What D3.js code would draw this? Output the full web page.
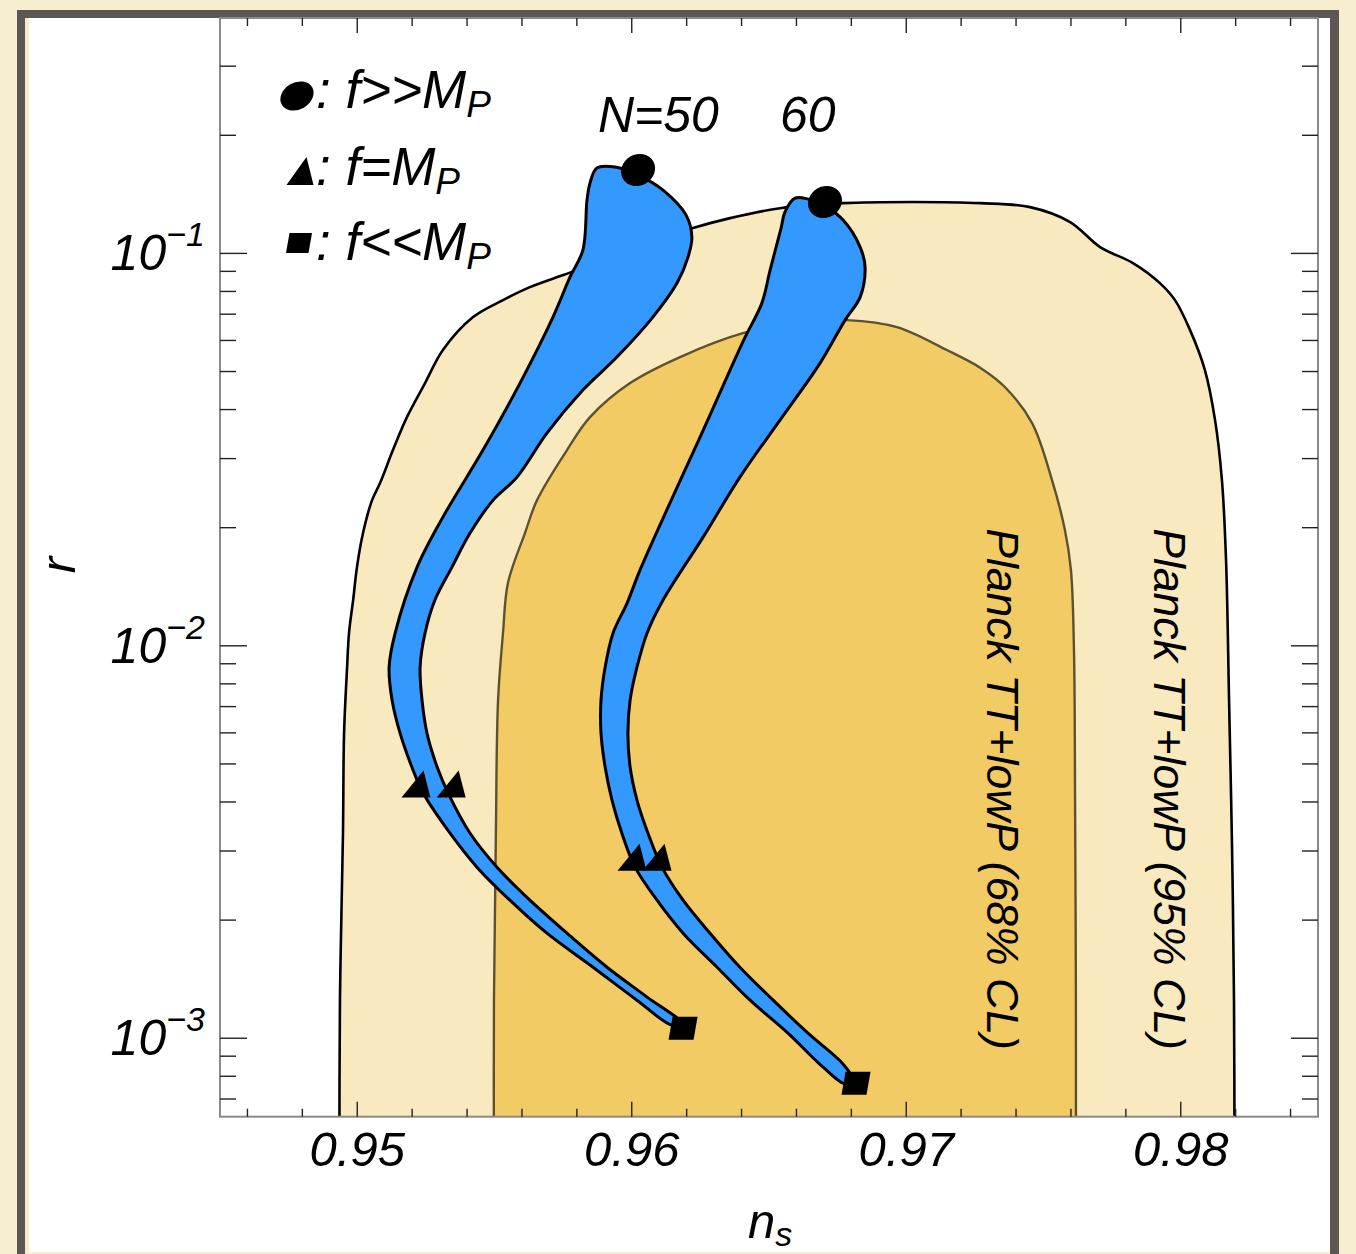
<!DOCTYPE html>
<html><head><meta charset="utf-8">
<script src="https://cdn.jsdelivr.net/npm/d3@7"></script>
<style>
html,body{margin:0;padding:0;background:#f7eed0;}
svg{display:block;}
text{font-family:"Liberation Sans",Arial,sans-serif;font-style:italic;fill:#000;}
</style></head><body>
<svg id="c" width="1356" height="1254"></svg>
<script>
// ---------- data ----------
const nsDomain = [0.945, 0.985];
const rDomain = [0.000631, 0.398];
const xMajorTicks = [0.95, 0.96, 0.97, 0.98];
const xTickLabels = ["0.95", "0.96", "0.97", "0.98"];
const yMajorTicks = [0.001, 0.01, 0.1];
const yTickExponents = ["\u22123", "\u22122", "\u22121"];

// Planck TT+lowP 95% CL contour [ns, r] (open at the bottom edge)
const planck95 = [
  [0.94935,0.0004],[0.94937,0.00125],[0.94948,0.00333],[0.94952,0.00599],[0.94963,0.00882],
  [0.94970,0.01078],[0.94985,0.01308],[0.94999,0.01587],[0.95021,0.01938],[0.95054,0.02351],
  [0.95083,0.02598],[0.95130,0.03153],[0.95181,0.03826],[0.95247,0.04672],[0.95312,0.05672],
  [0.95422,0.06882],[0.95531,0.07603],[0.95629,0.08204],[0.95750,0.08805],[0.95884,0.09502],
  [0.96066,0.1062],[0.96223,0.1160],[0.96358,0.1230],[0.96540,0.1304],[0.96770,0.1343],
  [0.97025,0.1352],[0.97269,0.1343],[0.97451,0.1312],[0.97597,0.1202],[0.97706,0.1038],
  [0.97826,0.09447],[0.97924,0.08401],[0.97979,0.07603],[0.98034,0.06375],[0.98088,0.05043],
  [0.98125,0.03759],[0.98150,0.02644],[0.98165,0.01654],[0.98176,0.00727],[0.98187,0.003016],
  [0.98194,0.00125],[0.98196,0.0004]
];
// Planck TT+lowP 68% CL contour [ns, r]
const planck68 = [
  [0.95498,0.0004],[0.95498,0.00125],[0.95505,0.00333],[0.95513,0.00727],[0.95531,0.01078],
  [0.95549,0.01445],[0.95611,0.01938],[0.95655,0.02351],[0.95764,0.03153],[0.95848,0.03826],
  [0.95994,0.04672],[0.96176,0.05443],[0.96405,0.06262],[0.96613,0.06682],[0.96784,0.06761],
  [0.96966,0.06489],[0.97148,0.05672],[0.97269,0.05115],[0.97360,0.04560],[0.97458,0.03700],
  [0.97531,0.02644],[0.97578,0.01972],[0.97600,0.01559],[0.97611,0.00975],[0.97615,0.004045],
  [0.97618,0.00125],[0.97618,0.0004]
];
// prediction band N=50 (outline, [ns, r])
const bandN50 = [
  [0.95873,0.1650],[0.95848,0.1511],[0.95837,0.1367],[0.95822,0.1020],[0.95775,0.0870],
  [0.95713,0.06882],[0.95593,0.04672],[0.95458,0.03153],[0.95312,0.02128],[0.95218,0.01587],
  [0.95138,0.01078],[0.95116,0.00882],[0.95127,0.00727],[0.95156,0.00599],[0.95199,0.00491],
  [0.95240,0.004214],[0.95338,0.00333],[0.95436,0.002729],[0.95556,0.002248],[0.95691,0.001852],
  [0.95859,0.001517],[0.96019,0.00125],[0.96147,0.00108],
  [0.96176,0.001099],[0.96056,0.001273],[0.95910,0.001517],[0.95764,0.001852],[0.95629,0.002248],
  [0.95509,0.002729],[0.95411,0.00333],[0.95331,0.004214],[0.95291,0.00491],[0.95254,0.00599],
  [0.95236,0.00727],[0.95229,0.00882],[0.95247,0.01078],[0.95283,0.01308],[0.95345,0.01587],
  [0.95411,0.01938],[0.95495,0.02351],[0.95582,0.02691],[0.95691,0.03483],[0.95822,0.04484],
  [0.95946,0.05443],[0.96077,0.06882],[0.96165,0.08401],[0.96205,0.09786],[0.96219,0.1100],
  [0.96198,0.1252],[0.96114,0.1450],[0.96030,0.1574],[0.95939,0.1660]
];
// prediction band N=60
const bandN60 = [
  [0.96595,0.1383],[0.96558,0.1274],[0.96544,0.1160],[0.96504,0.09067],[0.96474,0.07470],
  [0.96413,0.06117],[0.96358,0.05043],[0.96249,0.03403],[0.96139,0.02310],[0.96030,0.01559],
  [0.95983,0.01285],[0.95932,0.01078],[0.95903,0.00882],[0.95888,0.00727],[0.95888,0.00599],
  [0.95903,0.00491],[0.95928,0.004045],[0.95964,0.00333],[0.96012,0.002729],[0.96092,0.002248],
  [0.96187,0.001852],[0.96311,0.001517],[0.96431,0.00125],[0.96569,0.00103],[0.96697,0.000844],
  [0.96781,0.000764],
  [0.96802,0.000791],[0.96770,0.000859],[0.96642,0.00103],[0.96515,0.00125],[0.96394,0.001517],
  [0.96285,0.001852],[0.96187,0.002248],[0.96110,0.002729],[0.96059,0.00333],[0.96019,0.004045],
  [0.95994,0.00491],[0.95986,0.00599],[0.95994,0.00727],[0.96019,0.00882],[0.96056,0.01078],
  [0.96114,0.01308],[0.96260,0.01892],[0.96394,0.02691],[0.96540,0.03759],[0.96686,0.05254],
  [0.96777,0.06761],[0.96832,0.07737],[0.96850,0.09228],[0.96832,0.1038],[0.96770,0.1216],
  [0.96704,0.1320],[0.96642,0.1375]
];
// markers: f>>M_P, f=M_P, f<<M_P
const circleMarks = [[0.96023,0.1631],[0.96704,0.1352]];
const triangleMarks = [[0.95214,0.004442],[0.95342,0.004442],[0.96001,0.002894],[0.96092,0.002894]];
const squareMarks = [[0.96187,0.001061],[0.96817,0.000768]];
const legendLabels = [[": f>>M","P"],[": f=M","P"],[": f<<M","P"]];
const bandLabels = ["N=50","60"];
const contourLabels = ["Planck TT+lowP (68% CL)","Planck TT+lowP (95% CL)"];

// ---------- drawing ----------
const svg = d3.select("#c");
const X0=220, X1=1318, Y0=18, Y1=1116.7;
const x = d3.scaleLinear().domain(nsDomain).range([X0,X1]);
const y = d3.scaleLog().domain(rDomain).range([Y1,Y0]);

// frame
svg.append("rect").attr("x",0).attr("y",0).attr("width",1356).attr("height",1254).attr("fill","#f7eed0");
svg.append("rect").attr("x",17).attr("y",10).attr("width",1322).attr("height",1260).attr("fill","#5b5853");
svg.append("rect").attr("x",25).attr("y",18).attr("width",1305).attr("height",1234).attr("fill","#ffffff");
svg.append("rect").attr("x",25).attr("y",18).attr("width",4).attr("height",1234).attr("fill","#f8ecc8");
svg.append("rect").attr("x",25).attr("y",1252).attr("width",1305).attr("height",3).attr("fill","#f7eed0");

svg.append("clipPath").attr("id","pc").append("rect")
  .attr("x",X0).attr("y",Y0).attr("width",X1-X0).attr("height",Y1-Y0);
const g = svg.append("g").attr("clip-path","url(#pc)");

const closed = d3.line().x(d=>x(d[0])).y(d=>y(d[1])).curve(d3.curveCatmullRomClosed.alpha(0.5));
const openLine = d3.line().x(d=>x(d[0])).y(d=>y(d[1])).curve(d3.curveCatmullRom.alpha(0.5));

g.append("path").attr("d",openLine(planck95)+"Z").attr("fill","#f9e9bf").attr("stroke","#000").attr("stroke-width",2.6);
g.append("path").attr("d",openLine(planck68)+"Z").attr("fill","#f2cb65").attr("stroke","#5e5130").attr("stroke-width",2.4);
[bandN50,bandN60].forEach(b=>{
  g.append("path").attr("d",closed(b)).attr("fill","#3399ff").attr("stroke","#000").attr("stroke-width",3)
   .attr("stroke-linejoin","round");
});

// markers
const triPath = "M-14.5,13.5L14.5,13.5L7.5,-13.5Z";
const sqPath = "M-10.5,-11.5L14.5,-11.5L10.5,11.5L-14.5,11.5Z";
circleMarks.forEach(d=>{
  g.append("ellipse").attr("rx",17.5).attr("ry",15.5)
   .attr("transform",`translate(${x(d[0])},${y(d[1])}) rotate(-30)`).attr("fill","#000");
});
triangleMarks.forEach(d=>{
  g.append("path").attr("d",triPath).attr("transform",`translate(${x(d[0])},${y(d[1])})`).attr("fill","#000");
});
squareMarks.forEach(d=>{
  g.append("path").attr("d",sqPath).attr("transform",`translate(${x(d[0])},${y(d[1])})`).attr("fill","#000");
});

// axes frame
svg.append("rect").attr("x",X0).attr("y",Y0).attr("width",X1-X0).attr("height",Y1-Y0)
  .attr("fill","none").attr("stroke","#8a8a8a").attr("stroke-width",2);

// ticks
const ax = svg.append("g").attr("stroke","#222").attr("stroke-width",1.4);
const xMinor = d3.range(0.946,0.9845,0.002).filter(v=>!xMajorTicks.some(m=>Math.abs(m-v)<1e-6));
xMajorTicks.forEach(v=>{
  ax.append("line").attr("x1",x(v)).attr("x2",x(v)).attr("y1",Y1).attr("y2",Y1-15);
  ax.append("line").attr("x1",x(v)).attr("x2",x(v)).attr("y1",Y0).attr("y2",Y0+15);
});
xMinor.forEach(v=>{
  ax.append("line").attr("x1",x(v)).attr("x2",x(v)).attr("y1",Y1).attr("y2",Y1-8);
  ax.append("line").attr("x1",x(v)).attr("x2",x(v)).attr("y1",Y0).attr("y2",Y0+8);
});
const yMinor = [];
[1e-4,1e-3,1e-2,1e-1].forEach(dec=>{for(let k=2;k<=9;k++){const v=k*dec; if(v>=rDomain[0]&&v<=rDomain[1]) yMinor.push(v);}});
yMajorTicks.forEach(v=>{
  ax.append("line").attr("x1",X0).attr("x2",X0+27).attr("y1",y(v)).attr("y2",y(v));
  ax.append("line").attr("x1",X1).attr("x2",X1-27).attr("y1",y(v)).attr("y2",y(v));
});
yMinor.forEach(v=>{
  ax.append("line").attr("x1",X0).attr("x2",X0+16).attr("y1",y(v)).attr("y2",y(v));
  ax.append("line").attr("x1",X1).attr("x2",X1-16).attr("y1",y(v)).attr("y2",y(v));
});

// tick labels
xMajorTicks.forEach((v,i)=>{
  svg.append("text").attr("x",x(v)).attr("y",1166).attr("text-anchor","middle")
    .attr("font-size",49).text(xTickLabels[i]);
});
yMajorTicks.forEach((v,i)=>{
  const t = svg.append("text").attr("x",205).attr("y",y(v)+17).attr("text-anchor","end").attr("font-size",50);
  t.append("tspan").text("10");
  t.append("tspan").attr("dy",-24).attr("font-size",34).text(yTickExponents[i]);
});

// axis titles
svg.append("text").attr("transform","translate(75,565) rotate(-90)").attr("text-anchor","middle")
  .attr("font-size",49).text("r");
const nt = svg.append("text").attr("x",748).attr("y",1238).attr("font-size",49);
nt.append("tspan").text("n");
nt.append("tspan").attr("dy",8).attr("font-size",34).text("s");

// band labels
svg.append("text").attr("x",598).attr("y",132).attr("font-size",50).text(bandLabels[0]);
svg.append("text").attr("x",780).attr("y",132).attr("font-size",50).text(bandLabels[1]);

// contour labels
svg.append("text").attr("transform","translate(987,789) rotate(90)").attr("text-anchor","middle")
  .attr("font-size",44.5).text(contourLabels[0]);
svg.append("text").attr("transform","translate(1154,789) rotate(90)").attr("text-anchor","middle")
  .attr("font-size",44.5).text(contourLabels[1]);

// legend
svg.append("ellipse").attr("rx",17.5).attr("ry",13.5).attr("transform","translate(297,96) rotate(-30)").attr("fill","#000");
svg.append("path").attr("d","M-13.5,14L13.5,14L6.5,-14Z").attr("transform","translate(300,171)").attr("fill","#000");
svg.append("path").attr("d","M-9.5,-10L13,-10L9.5,10L-13,10Z").attr("transform","translate(299,243)").attr("fill","#000");
[108,185,260].forEach((yy,i)=>{
  const t = svg.append("text").attr("x",316).attr("y",yy).attr("font-size",53);
  t.append("tspan").text(legendLabels[i][0]);
  t.append("tspan").attr("dy",9).attr("font-size",37).text(legendLabels[i][1]);
});
</script></body></html>
